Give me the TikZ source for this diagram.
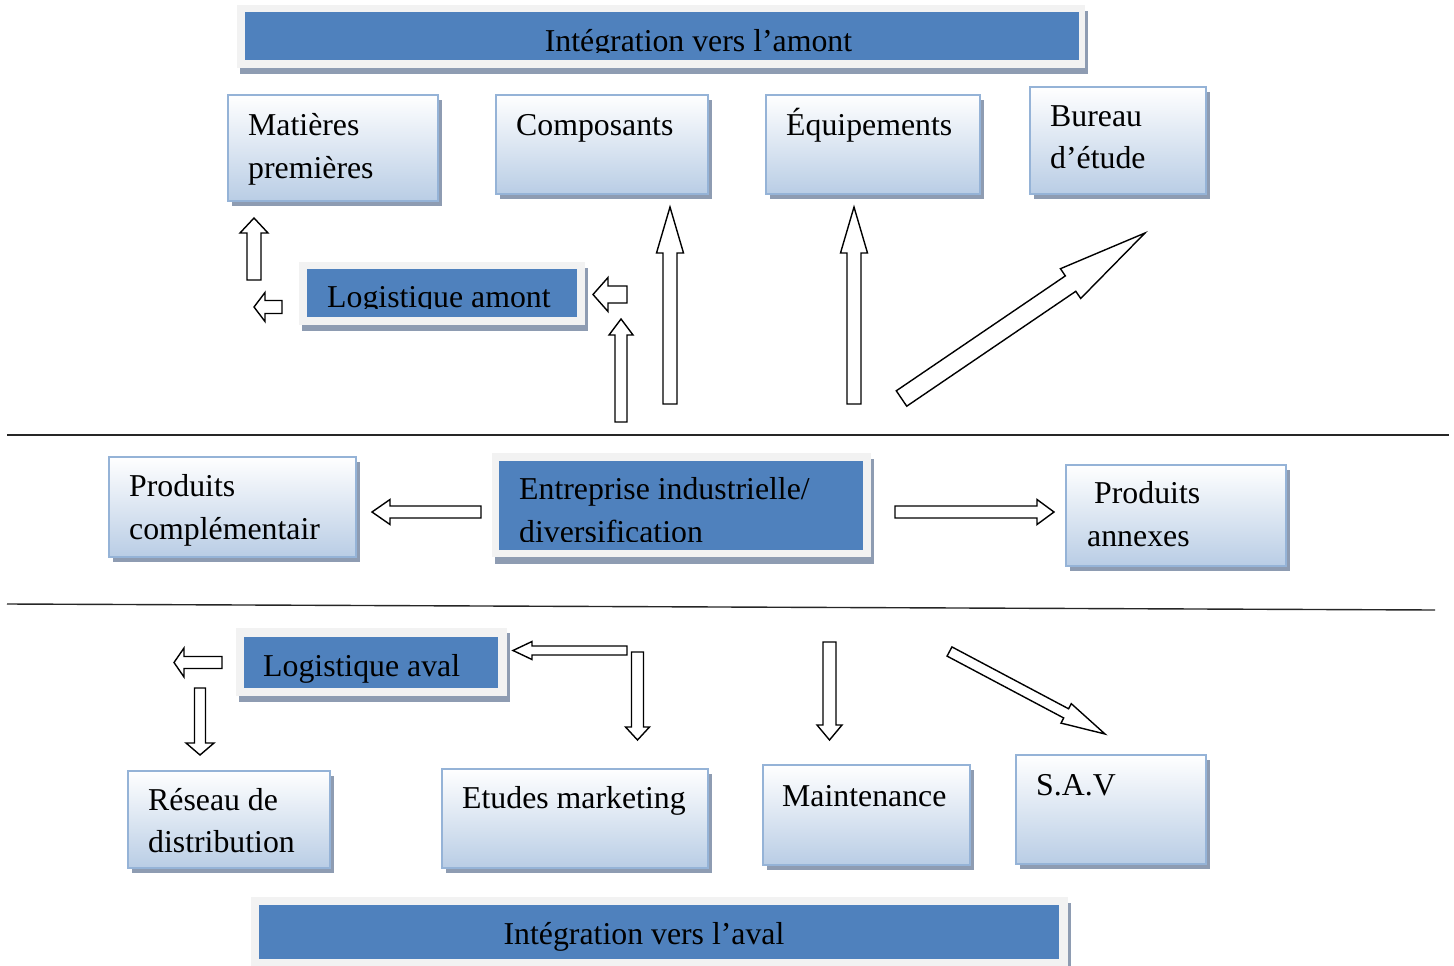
\documentclass[tikz,border=0pt]{standalone}
\usepackage{fontspec}
\setmainfont{Liberation Serif}
\usetikzlibrary{calc,shadows}

\definecolor{bannerblue}{HTML}{4F81BD}
\definecolor{framegray}{HTML}{F2F2F2}
\definecolor{shadowgray}{HTML}{8E9CB2}
\definecolor{boxedge}{HTML}{95B3D7}
\definecolor{boxfill}{HTML}{B9CDE5}

% hollow block arrow from #1 to #2: shaft half-width #3, head half-width #4, head length #5
\newcommand\blockarrow[5]{%
  \coordinate (ba-h) at ($(#2)!#5!(#1)$);
  \draw[barrow] ($(#1)!#3!90:(#2)$) -- ($(ba-h)!#3!-90:(#1)$) -- ($(ba-h)!#4!-90:(#1)$)
    -- (#2) -- ($(ba-h)!#4!90:(#1)$) -- ($(ba-h)!#3!90:(#1)$) -- ($(#1)!#3!-90:(#2)$) -- cycle;}

\tikzset{
  txt/.style={anchor=base west, inner sep=0pt, font=\fontsize{31.8}{38}\selectfont},
  ctxt/.style={txt, anchor=base},
  lbox/.style={draw=boxedge, line width=1.8pt, top color=white, bottom color=boxfill,
    anchor=north west, inner sep=0pt,
    drop shadow={shadow xshift=4pt, shadow yshift=-5pt, fill=shadowgray, opacity=1}},
  frame/.style={fill=framegray, draw=none, anchor=north west, inner sep=0pt,
    drop shadow={shadow xshift=3pt, shadow yshift=-6pt, fill=shadowgray, opacity=1}},
  blue/.style={fill=bannerblue, draw=none, anchor=north west, inner sep=0pt},
  barrow/.style={draw=black, fill=white, line width=1.4pt, line join=miter},
  sepline/.style={draw=black!85, line width=1.4pt}
}

\begin{document}
\begin{tikzpicture}[x=1pt, y=-1pt]
\useasboundingbox (0,0) rectangle (1454,966);

% ---------- upstream integration ----------
\node[frame, minimum width=848pt, minimum height=63pt] (topf) at (237,5) {};
\node[blue, minimum width=834pt, minimum height=48pt] (top) at (245,12) {};
\begin{scope}
  % the text area ends just below the baseline
  \clip (top.north west) rectangle ($(top.north east)+(0,41)$);
  \node[ctxt] (toptxt) at (698.5,52) {Intégration vers l’amont};
\end{scope}

\node[lbox, minimum width=210pt, minimum height=106pt] (mp) at (227,94) {};
\node[txt] (mp1) at (248,135) {Matières};
\node[txt] (mp2) at (248,178) {premières};

\node[lbox, minimum width=212pt, minimum height=99pt] (comp) at (495,94) {};
\node[txt] (comp1) at (516,135) {Composants};

\node[lbox, minimum width=214pt, minimum height=99pt] (equip) at (765,94) {};
\node[txt] (equip1) at (786,135) {Équipements};

\node[lbox, minimum width=176pt, minimum height=107pt] (bur) at (1029,86) {};
\node[txt] (bur1) at (1050,126) {Bureau};
\node[txt] (bur2) at (1050,168) {d’étude};

\node[frame, minimum width=286pt, minimum height=63pt] (laf) at (299,262) {};
\node[blue, minimum width=270pt, minimum height=48pt] (la) at (307,269) {};
\begin{scope}
  \clip (la.north west) rectangle ($(la.north east)+(0,39.5)$);
  \node[txt] (latxt) at (327,307.5) {Logistique amont};
\end{scope}

% arrows of the upstream part
\coordinate (u1s) at (254,280);   \coordinate (u1e) at (254,218);
\coordinate (u2s) at (282,307);   \coordinate (u2e) at (254,307);
\coordinate (u3s) at (627,294.5); \coordinate (u3e) at (593,294.5);
\coordinate (u4s) at (621,422);   \coordinate (u4e) at (621,319);
\coordinate (u5s) at (670,404);   \coordinate (u5e) at (670,207);
\coordinate (u6s) at (854,404);   \coordinate (u6e) at (854,207);
\coordinate (u7s) at (901.5,398.5); \coordinate (u7e) at (1145,233);
\blockarrow{u1s}{u1e}{7pt}{14pt}{15pt}
\blockarrow{u2s}{u2e}{6.5pt}{14.5pt}{11pt}
\blockarrow{u3s}{u3e}{8.5pt}{17pt}{15pt}
\blockarrow{u4s}{u4e}{6pt}{12pt}{16pt}
\blockarrow{u5s}{u5e}{7pt}{13.5pt}{46pt}
\blockarrow{u6s}{u6e}{7pt}{13.5pt}{46pt}
\blockarrow{u7s}{u7e}{9.3pt}{18pt}{90pt}

% ---------- separators ----------
\coordinate (s1a) at (7,435);  \coordinate (s1b) at (1449,435);
\coordinate (s2a) at (7,604);  \coordinate (s2b) at (1435,610);
\draw[sepline] (s1a) -- (s1b);
\draw[sepline] (s2a) -- (s2b);

% ---------- diversification ----------
\node[lbox, minimum width=247pt, minimum height=100pt] (pc) at (108,456) {};
\node[txt] (pc1) at (129,496) {Produits};
\node[txt] (pc2) at (129,539) {complémentair};

\node[frame, minimum width=379pt, minimum height=104pt, drop shadow={shadow xshift=3pt, shadow yshift=-7pt, fill=shadowgray, opacity=1}] (entf) at (492,453) {};
\node[blue, minimum width=364pt, minimum height=89pt] (ent) at (499,461) {};
\begin{scope}
  \clip (ent.north west) rectangle ($(ent.north east)+(0,80.5)$);
  \node[txt] (ent1) at (519,499) {Entreprise industrielle/};
  \node[txt] (ent2) at (519,542) {diversification};
\end{scope}

\node[lbox, minimum width=220pt, minimum height=101pt] (pa) at (1065,464) {};
\node[txt] (pa1) at (1094,503) {Produits};
\node[txt] (pa2) at (1087,546) {annexes};

\coordinate (m1s) at (481,512); \coordinate (m1e) at (372,512);
\coordinate (m2s) at (895,512); \coordinate (m2e) at (1054,512);
\blockarrow{m1s}{m1e}{6pt}{12.5pt}{18pt}
\blockarrow{m2s}{m2e}{6pt}{12.5pt}{17pt}

% ---------- downstream integration ----------
\node[frame, minimum width=271pt, minimum height=68pt, drop shadow={shadow xshift=3pt, shadow yshift=-5pt, fill=shadowgray, opacity=1}] (lvf) at (236,628) {};
\node[blue, minimum width=254pt, minimum height=51pt] (lv) at (244,637) {};
\node[txt] (lvtxt) at (263,676) {Logistique aval};

\coordinate (d1s) at (222,662.5); \coordinate (d1e) at (174,662.5);
\coordinate (d2s) at (200,688);   \coordinate (d2e) at (200,755);
\coordinate (d3s) at (627,650.5); \coordinate (d3e) at (513,650.5);
\coordinate (d4s) at (637.5,652); \coordinate (d4e) at (637.5,740);
\coordinate (d5s) at (829.5,642); \coordinate (d5e) at (829.5,740);
\coordinate (d6s) at (949.5,651.5); \coordinate (d6e) at (1105,734);
\blockarrow{d1s}{d1e}{6pt}{14.5pt}{10pt}
\blockarrow{d2s}{d2e}{5.5pt}{14pt}{12pt}
\blockarrow{d3s}{d3e}{4.5pt}{9pt}{19pt}
\blockarrow{d4s}{d4e}{6pt}{12pt}{13pt}
\blockarrow{d5s}{d5e}{6.5pt}{12.5pt}{15pt}
\blockarrow{d6s}{d6e}{5.2pt}{11pt}{44pt}

\node[lbox, minimum width=202pt, minimum height=97pt] (rd) at (127,770) {};
\node[txt] (rd1) at (148,810) {Réseau de};
\node[txt] (rd2) at (148,852) {distribution};

\node[lbox, minimum width=266pt, minimum height=99pt] (em) at (441,768) {};
\node[txt] (em1) at (462,808) {Etudes marketing};

\node[lbox, minimum width=207pt, minimum height=100pt] (mt) at (762,764) {};
\node[txt] (mt1) at (782,806) {Maintenance};

\node[lbox, minimum width=190pt, minimum height=109pt] (sav) at (1015,754) {};
\node[txt] (sav1) at (1036,795) {S.A.V};

\node[frame, minimum width=817pt, minimum height=75pt] (botf) at (251,897) {};
\node[blue, minimum width=800pt, minimum height=54pt] (bot) at (259,905) {};
\node[ctxt] (bottxt) at (644,944) {Intégration vers l’aval};
\end{tikzpicture}
\end{document}
